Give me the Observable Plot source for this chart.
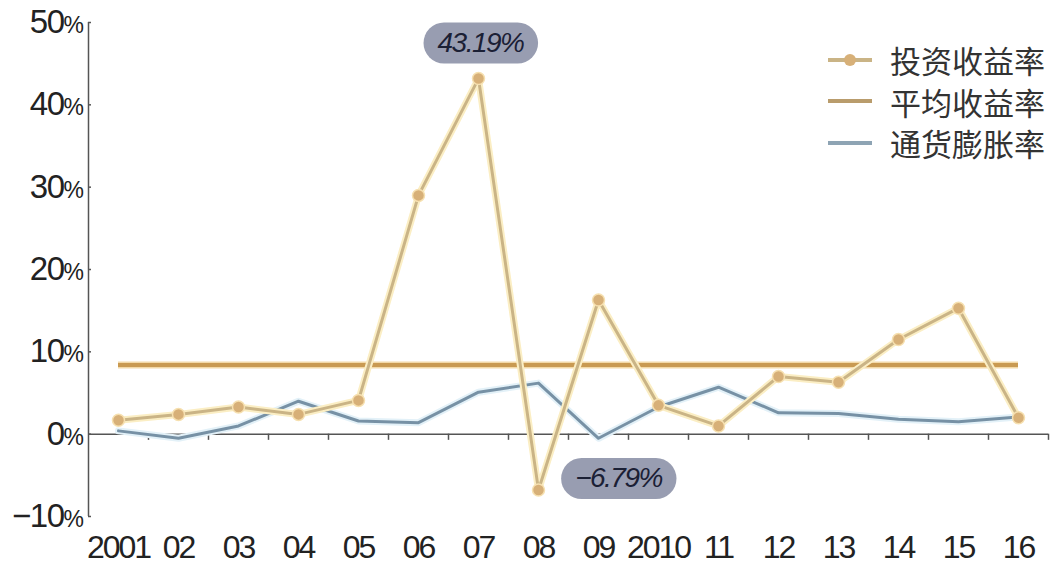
<!DOCTYPE html>
<html>
<head>
<meta charset="utf-8">
<script src="https://cdn.jsdelivr.net/npm/d3@7"></script>
<script src="https://cdn.jsdelivr.net/npm/@observablehq/plot@0.6"></script>
<style>
  html, body { margin: 0; padding: 0; background: #fff; }
  #wrap { position: relative; width: 1056px; height: 567px; overflow: hidden; }
  #legend { position: absolute; left: 826px; top: 39px; font-family: "Noto Sans CJK SC", sans-serif; font-size: 31px; color: #333; line-height: 41.5px; }
  #legend .row { display: flex; align-items: center; height: 41.5px; }
  #legend svg { margin-right: 16px; }
</style>
</head>
<body>
<div id="wrap"></div>
<script>
// ---- data ----
const years = [2001, 2002, 2003, 2004, 2005, 2006, 2007, 2008, 2009, 2010, 2011, 2012, 2013, 2014, 2015, 2016];
const xLabels = ["2001", "02", "03", "04", "05", "06", "07", "08", "09", "2010", "11", "12", "13", "14", "15", "16"];
const investReturn = [1.7, 2.4, 3.3, 2.4, 4.1, 29.0, 43.19, -6.79, 16.3, 3.5, 1.0, 7.0, 6.3, 11.5, 15.3, 2.0];
const inflation = [0.4, -0.5, 1.0, 4.0, 1.6, 1.4, 5.1, 6.2, -0.5, 3.3, 5.7, 2.6, 2.5, 1.8, 1.5, 2.1];
const avgReturn = 8.4;
const yTicks = [-10, 0, 10, 20, 30, 40, 50];
const seriesNames = ["投资收益率", "平均收益率", "通货膨胀率"];
const peakLabel = { year: 2007, value: 43.19, label: "43.19%" };
const troughLabel = { year: 2008, value: -6.79, label: "−6.79%" };

// ---- styles ----
const C_INVEST = "#cab486", C_INVEST_GLOW = "#fbeec4", C_DOT = "#d7b078", C_DOT_RING = "#f6e0b0";
const C_AVG = "#c99a52";
const C_INFL = "#7791a5", C_INFL_GLOW = "#e3f1f8";
const C_AXIS = "#555";

const investData = years.map((y, i) => ({ year: y, value: investReturn[i] }));
const inflData = years.map((y, i) => ({ year: y, value: inflation[i] }));
const halfStep = (years[1] - years[0]) / 2;
const xMin = years[0] - halfStep, xMax = years[years.length - 1] + halfStep;
const mids = years.map(y => y + halfStep);
const fmtPct = d => (d < 0 ? "−" + Math.abs(d) : String(d)) + "%";

const chart = Plot.plot({
  width: 1056,
  height: 567,
  marginLeft: 88,
  marginRight: 8,
  marginTop: 22,
  marginBottom: 51,
  style: { fontFamily: "'Liberation Sans', Arial, sans-serif", background: "transparent" },
  x: { domain: [xMin, xMax], axis: null },
  y: { domain: [yTicks[0], yTicks[yTicks.length - 1]], axis: null },
  marks: [
    // y axis line and inward ticks
    Plot.ruleX([xMin], { y1: yTicks[0], y2: yTicks[yTicks.length - 1], stroke: C_AXIS, strokeWidth: 1.5 }),
    Plot.ruleY(yTicks, { y: d => d, x1: xMin, x2: xMin + 0.05, stroke: C_AXIS, strokeWidth: 1.5 }),
    // zero line and ticks between years
    Plot.ruleY([0], { x1: xMin, x2: xMax, stroke: C_AXIS, strokeWidth: 1.5 }),
    Plot.ruleX(mids, { x: d => d, y1: 0, y2: -0.75, stroke: C_AXIS, strokeWidth: 1.5 }),
    Plot.axisY({
      ticks: yTicks, tickSize: 0, tickPadding: 6, tickFormat: fmtPct, label: null,
      fontSize: 33, fill: "#222", className: "yax"
    }),
    Plot.axisX({
      ticks: years, tickSize: 0, tickPadding: 19, tickFormat: d => xLabels[years.indexOf(d)], label: null,
      fontSize: 32, fill: "#222", className: "xax"
    }),
    // inflation
    Plot.line(inflData, { x: "year", y: "value", stroke: C_INFL_GLOW, strokeWidth: 7 }),
    Plot.line(inflData, { x: "year", y: "value", stroke: C_INFL, strokeWidth: 3 }),
    // average
    Plot.ruleY([avgReturn], { x1: years[0], x2: years[years.length - 1], stroke: "#f3d9a8", strokeWidth: 7 }),
    Plot.ruleY([avgReturn], { x1: years[0], x2: years[years.length - 1], stroke: C_AVG, strokeWidth: 4 }),
    // investment return
    Plot.line(investData, { x: "year", y: "value", stroke: C_INVEST_GLOW, strokeWidth: 7 }),
    Plot.line(investData, { x: "year", y: "value", stroke: C_INVEST, strokeWidth: 3 }),
    Plot.dot(investData, { x: "year", y: "value", r: 6, fill: C_DOT, stroke: C_DOT_RING, strokeWidth: 1.5 }),
    // annotations
    Plot.text([peakLabel], { x: "year", y: "value", text: "label", dx: 2, dy: -36, fontSize: 28, fontStyle: "italic", fill: "#1b2035", className: "pill" }),
    Plot.text([troughLabel], { x: "year", y: "value", text: "label", dx: 80, dy: -12, fontSize: 28, fontStyle: "italic", fill: "#1b2035", className: "pill" })
  ]
});

const wrap = document.getElementById("wrap");
wrap.appendChild(chart);

// letter spacing and smaller % sign on y labels
d3.select(chart).selectAll(".xax text").attr("letter-spacing", "-2");
d3.select(chart).selectAll(".yax text").each(function () {
  const t = d3.select(this);
  const s = t.text();
  const num = s.replace("%", "");
  t.attr("letter-spacing", "-1.5").text(num);
  t.append("tspan").attr("font-size", 23).text("%");
});

// pill backgrounds behind annotation labels
d3.select(chart).selectAll(".pill text").each(function () {
  this.setAttribute("letter-spacing", "-1.5");
  const b = this.getBBox();
  const padX = 14, padY = 5;
  const h = b.height + padY * 2;
  const rect = document.createElementNS("http://www.w3.org/2000/svg", "rect");
  rect.setAttribute("x", b.x - padX);
  rect.setAttribute("y", b.y - padY + 1);
  rect.setAttribute("width", b.width + padX * 2);
  rect.setAttribute("height", h);
  rect.setAttribute("rx", h / 2);
  rect.setAttribute("fill", "#989db1");
  const tr = this.getAttribute("transform");
  if (tr) rect.setAttribute("transform", tr);
  this.parentNode.insertBefore(rect, this);
});

// legend
const legend = document.createElement("div");
legend.id = "legend";
const swatches = [
  `<svg width="48" height="16"><line x1="2" y1="8" x2="46" y2="8" stroke="${C_INVEST}" stroke-width="4"/><circle cx="24" cy="8" r="6" fill="${C_DOT}"/></svg>`,
  `<svg width="48" height="16"><line x1="2" y1="8" x2="46" y2="8" stroke="#b99c6c" stroke-width="4"/></svg>`,
  `<svg width="48" height="16"><line x1="2" y1="8" x2="46" y2="8" stroke="#8ea4b4" stroke-width="4"/></svg>`
];
seriesNames.forEach((name, i) => {
  const row = document.createElement("div");
  row.className = "row";
  row.innerHTML = swatches[i] + `<span>${name}</span>`;
  legend.appendChild(row);
});
wrap.appendChild(legend);
</script>
</body>
</html>
